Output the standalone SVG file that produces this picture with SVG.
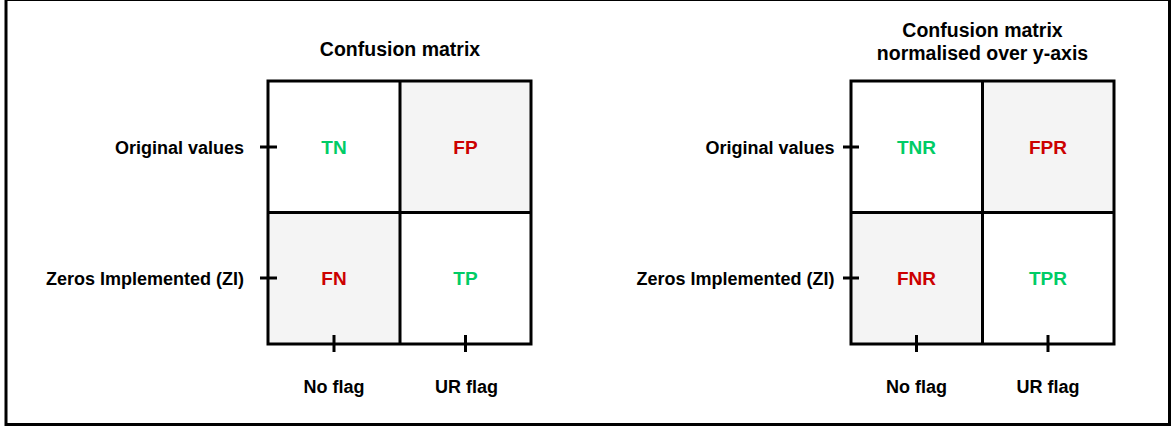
<svg xmlns="http://www.w3.org/2000/svg" width="1171" height="427" viewBox="0 0 1171 427">
  <style>
    text { font-family: "Liberation Sans", Arial, Helvetica, sans-serif; font-weight: bold; fill: #000; }
    .title { font-size: 19.5px; text-anchor: middle; }
    .ylab { font-size: 18px; text-anchor: end; }
    .xlab { font-size: 18px; text-anchor: middle; }
    .cell { font-size: 19px; text-anchor: middle; }
    .ok { fill: #00cc66; }
    .bad { fill: #cc0000; }
    .grid { fill: none; stroke: #000; stroke-width: 3; }
    .shade { fill: #f4f4f4; stroke: none; }
    .tick { stroke: #000; stroke-width: 3; fill: none; }
  </style>

  <!-- outer frame -->
  <rect x="6" y="-0.5" width="1163.5" height="425" fill="#fff" stroke="#000" stroke-width="3"/>

  <!-- left: plain confusion matrix -->
  <g id="matrix-counts">
    <text class="title" x="400" y="56">Confusion matrix</text>
    <rect class="shade" x="400" y="81" width="131" height="131.5"/>
    <rect class="shade" x="268" y="212.5" width="132" height="131.5"/>
    <rect class="grid" x="268" y="81" width="263" height="263"/>
    <line class="grid" x1="400" y1="81" x2="400" y2="344"/>
    <line class="grid" x1="268" y1="212.5" x2="531" y2="212.5"/>
    <text class="cell ok" x="334" y="153.5">TN</text>
    <text class="cell bad" x="465.5" y="153.5">FP</text>
    <text class="cell bad" x="334" y="285">FN</text>
    <text class="cell ok" x="465.5" y="285">TP</text>
  </g>
  <g id="axes-counts">
    <path class="tick" d="M260 147H277M260 278H277M334 335V352M465.5 335V352"/>
    <text class="ylab" x="244" y="153.5">Original values</text>
    <text class="ylab" x="244" y="284.5">Zeros Implemented (ZI)</text>
    <text class="xlab" x="334" y="393">No flag</text>
    <text class="xlab" x="466.5" y="393">UR flag</text>
  </g>

  <!-- right: confusion matrix normalised over y-axis -->
  <g id="matrix-rates">
    <text class="title" x="982.5" y="37">Confusion matrix</text>
    <text class="title" x="982.5" y="60">normalised over y-axis</text>
    <rect class="shade" x="982.5" y="81" width="131" height="131.5"/>
    <rect class="shade" x="851" y="212.5" width="131.5" height="131.5"/>
    <rect class="grid" x="851" y="81" width="263" height="263"/>
    <line class="grid" x1="982.5" y1="81" x2="982.5" y2="344"/>
    <line class="grid" x1="851" y1="212.5" x2="1114" y2="212.5"/>
    <text class="cell ok" x="916.5" y="153.5">TNR</text>
    <text class="cell bad" x="1048" y="153.5">FPR</text>
    <text class="cell bad" x="916.5" y="285">FNR</text>
    <text class="cell ok" x="1048" y="285">TPR</text>
  </g>
  <g id="axes-rates">
    <path class="tick" d="M843 147H859M843 278H859M916.5 335V352M1048 335V352"/>
    <text class="ylab" x="834.5" y="153.5">Original values</text>
    <text class="ylab" x="834.5" y="284.5">Zeros Implemented (ZI)</text>
    <text class="xlab" x="916.5" y="393">No flag</text>
    <text class="xlab" x="1048" y="393">UR flag</text>
  </g>
</svg>
